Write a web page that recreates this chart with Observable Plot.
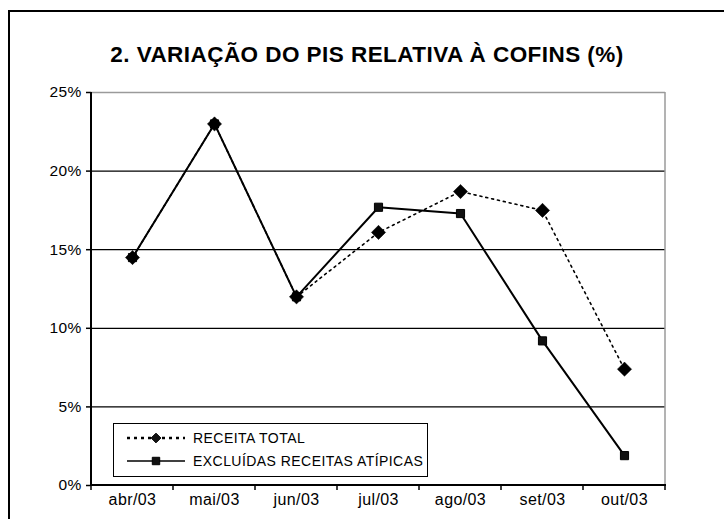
<!DOCTYPE html>
<html>
<head>
<meta charset="utf-8">
<script src="https://cdn.jsdelivr.net/npm/d3@7"></script>
<script src="https://cdn.jsdelivr.net/npm/@observablehq/plot@0.6"></script>
<style>
  html, body { margin: 0; padding: 0; background: #fff; }
  #wrap { position: relative; width: 724px; height: 519px; overflow: hidden; font-family: "Liberation Sans", Arial, sans-serif; }
  #border { position: absolute; left: 8px; top: 10px; width: 800px; height: 600px; border-left: 2px solid #000; border-top: 2px solid #000; box-sizing: border-box; }
  #title { position: absolute; left: 0; width: 734px; top: 42px; text-align: center; font-weight: bold; font-size: 22.5px; letter-spacing: 0.45px; color: #000; white-space: nowrap; }
  #chart { position: absolute; left: 0; top: 0; }
  #chart g[aria-label="y-axis tick label"] text { letter-spacing: 0.3px; }
  #chart g[aria-label="x-axis tick label"] text { letter-spacing: 0.4px; }
  #legend { position: absolute; left: 113px; top: 423px; width: 315px; height: 54px; border: 1.5px solid #000; background: #fff; box-sizing: border-box; font-size: 14px; letter-spacing: 0.45px; }
  .row { position: absolute; left: 12px; height: 20px; display: flex; align-items: center; white-space: nowrap; }
  .row svg { margin-right: 7px; }
</style>
</head>
<body>
<div id="wrap">
  <div id="border"></div>
  <div id="chart"></div>
  <div id="title">2. VARIAÇÃO DO PIS RELATIVA À COFINS (%)</div>
  <div id="legend"></div>
</div>
<script>
const months = ["abr/03", "mai/03", "jun/03", "jul/03", "ago/03", "set/03", "out/03"];
const receitaTotal = [14.5, 23.0, 12.0, 16.1, 18.7, 17.5, 7.4];
const excluidasAtipicas = [14.5, 23.0, 12.0, 17.7, 17.3, 9.2, 1.9];
const yTicks = [0, 5, 10, 15, 20, 25];
const seriesNames = ["RECEITA TOTAL", "EXCLUÍDAS RECEITAS ATÍPICAS"];

const rt = months.map((m, i) => ({month: m, value: receitaTotal[i]}));
const ex = months.map((m, i) => ({month: m, value: excluidasAtipicas[i]}));

const frameMark = (index, scales, values, dims) => {
  const x = scales.x, y = scales.y;
  const bw = x(months[1]) - x(months[0]);
  const left = dims.marginLeft, right = dims.width - dims.marginRight;
  const g = d3.create("svg:g");
  // right plot border (gray)
  g.append("line").attr("x1", right).attr("x2", right).attr("y1", y(25)).attr("y2", y(0))
    .attr("stroke", "#9a9a9a").attr("stroke-width", 1.5);
  // left axis line
  g.append("line").attr("x1", left).attr("x2", left).attr("y1", y(25)).attr("y2", y(0) + 1)
    .attr("stroke", "#000").attr("stroke-width", 2);
  // bottom axis line
  g.append("line").attr("x1", left).attr("x2", right + 1).attr("y1", y(0)).attr("y2", y(0))
    .attr("stroke", "#000").attr("stroke-width", 2);
  // category boundary ticks
  const bounds = months.map(m => x(m)).concat([x(months[months.length - 1]) + bw]);
  g.selectAll("line.t").data(bounds).join("line").attr("class", "t")
    .attr("x1", d => d).attr("x2", d => d).attr("y1", y(0)).attr("y2", y(0) + 5)
    .attr("stroke", "#000").attr("stroke-width", 1.5);
  return g.node();
};

const chart = Plot.plot({
  width: 724,
  height: 519,
  marginLeft: 91,
  marginRight: 59,
  marginTop: 92,
  marginBottom: 34,
  style: {fontFamily: "'Liberation Sans', Arial, sans-serif", fontSize: "13px", color: "#000", background: "transparent"},
  x: {type: "band", domain: months, padding: 0},
  y: {domain: [0, 25]},
  marks: [
    Plot.ruleY(yTicks.filter(d => d > 0 && d < 25), {stroke: "#000", strokeWidth: 1.3}),
    Plot.ruleY([25], {stroke: "#9a9a9a", strokeWidth: 1.5}),
    frameMark,
    Plot.axisY({ticks: yTicks, tickSize: 5, tickPadding: 5, tickFormat: d => d + "%", fontSize: 15.5, strokeWidth: 1.5, label: null}),
    Plot.axisX({tickSize: 0, tickPadding: 8.5, fontSize: 16, label: null}),
    Plot.line(ex, {x: "month", y: "value", stroke: "#000", strokeWidth: 2}),
    Plot.dot(ex, {x: "month", y: "value", symbol: "square", r: 4.6, fill: "#111", stroke: "#000", strokeWidth: 1}),
    Plot.line(rt, {x: "month", y: "value", stroke: "#000", strokeWidth: 1.6, strokeDasharray: "2,4"}),
    Plot.dot(rt, {x: "month", y: "value", symbol: "diamond2", r: 6.4, fill: "#000", stroke: "#000", strokeWidth: 0.5})
  ]
});
document.getElementById("chart").appendChild(chart);

// legend
const legend = d3.select("#legend");
const rows = [
  {name: seriesNames[0], dash: "3,4", width: 2.5, symbol: d3.symbolDiamond2, size: 60, top: 4},
  {name: seriesNames[1], dash: null, width: 1.5, symbol: d3.symbolSquare, size: 55, top: 27}
];
rows.forEach(r => {
  const row = legend.append("div").attr("class", "row").style("top", r.top + "px");
  const s = row.append("svg").attr("width", 60).attr("height", 16);
  const l = s.append("line").attr("x1", 1).attr("x2", 59).attr("y1", 8).attr("y2", 8)
    .attr("stroke", "#000").attr("stroke-width", r.width);
  if (r.dash) l.attr("stroke-dasharray", r.dash);
  s.append("path").attr("d", d3.symbol(r.symbol, r.size)()).attr("transform", "translate(30,8)")
    .attr("fill", "#111").attr("stroke", "#000");
  row.append("span").text(r.name);
});
</script>
</body>
</html>
